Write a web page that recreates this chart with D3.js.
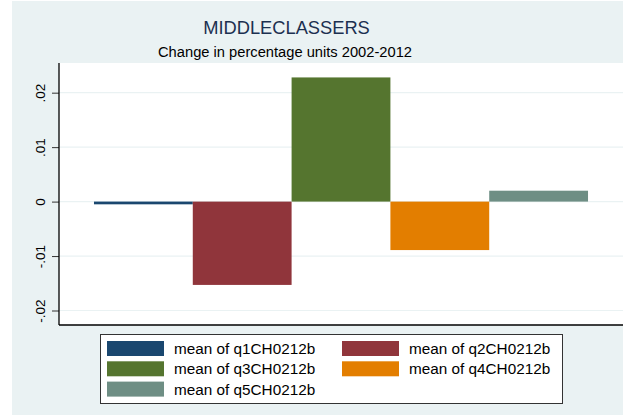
<!DOCTYPE html>
<html>
<head>
<meta charset="utf-8">
<script src="https://cdn.jsdelivr.net/npm/d3@7"></script>
<style>
  body { margin: 0; background: #fff; }
  text { font-family: "Liberation Sans", Arial, sans-serif; }
</style>
</head>
<body>
<div id="chart"></div>
<script>
"use strict";

const series = ["q1CH0212b", "q2CH0212b", "q3CH0212b", "q4CH0212b", "q5CH0212b"];
const values = [-0.0005, -0.0153, 0.0228, -0.0089, 0.0020];
const colors = ["#1a476f", "#90353b", "#55752f", "#e37e00", "#6e8e84"];
const yTicks = [-0.02, -0.01, 0, 0.01, 0.02];
const yTickLabels = ["-.02", "-.01", "0", ".01", ".02"];

const size = {
  width: 623,
  height: 415,
  left: 59,
  right: 623,
  top: 63,
  bottom: 325
};

window.onload = function () {
  const svg = d3.select("#chart")
    .append("svg")
    .attr("width", size.width)
    .attr("height", size.height);

  // outer background
  svg.append("rect")
    .attr("x", 12).attr("y", 1)
    .attr("width", size.width - 12).attr("height", size.height - 1)
    .attr("fill", "#eaf2f3");

  // plot region
  svg.append("rect")
    .attr("x", size.left).attr("y", size.top)
    .attr("width", size.right - size.left).attr("height", size.bottom - size.top)
    .attr("fill", "#ffffff");

  const x = d3.scaleBand()
    .domain(series)
    .range([size.left, size.right])
    .paddingInner(0)
    .paddingOuter(0.354);

  const y = d3.scaleLinear()
    .domain([-0.02266, 0.02545])
    .range([size.bottom, size.top]);

  // grid lines
  svg.append("g")
    .selectAll("line")
    .data(yTicks)
    .enter()
    .append("line")
    .attr("x1", size.left).attr("x2", size.right)
    .attr("y1", d => y(d)).attr("y2", d => y(d))
    .attr("stroke", "#eaf2f3")
    .attr("stroke-width", 1.2);

  // bars
  svg.append("g")
    .selectAll("rect")
    .data(series)
    .enter()
    .append("rect")
    .attr("x", d => x(d))
    .attr("width", x.bandwidth())
    .attr("y", (d, i) => y(Math.max(0, values[i])))
    .attr("height", (d, i) => Math.abs(y(values[i]) - y(0)))
    .attr("fill", (d, i) => colors[i]);

  // y axis
  const yAxis = d3.axisLeft(y)
    .tickValues(yTicks)
    .tickSize(7)
    .tickFormat((d, i) => yTickLabels[i]);

  const gy = svg.append("g")
    .attr("transform", "translate(" + size.left + ",0)")
    .call(yAxis);
  gy.select(".domain").remove();
  gy.selectAll(".tick line").attr("stroke", "#333").attr("stroke-width", 1);
  gy.selectAll(".tick text")
    .attr("x", 0).attr("y", 0)
    .attr("dy", 0)
    .attr("transform", "translate(-14,0) rotate(-90)")
    .attr("text-anchor", "middle")
    .attr("fill", "#000")
    .style("font-size", "13.5px")
    .style("font-family", "'Liberation Sans', Arial, sans-serif");

  // axis lines
  svg.append("line")
    .attr("x1", size.left).attr("x2", size.left)
    .attr("y1", size.top).attr("y2", size.bottom)
    .attr("stroke", "#000").attr("stroke-width", 1.3);
  svg.append("line")
    .attr("x1", size.left).attr("x2", size.right)
    .attr("y1", size.bottom).attr("y2", size.bottom)
    .attr("stroke", "#000").attr("stroke-width", 1.3);

  // titles
  svg.append("text")
    .attr("x", 286.5).attr("y", 34)
    .attr("text-anchor", "middle")
    .attr("fill", "#1c3050")
    .style("font-size", "18.3px")
    .text("MIDDLECLASSERS");

  svg.append("text")
    .attr("x", 285).attr("y", 57)
    .attr("text-anchor", "middle")
    .attr("fill", "#000")
    .style("font-size", "14.7px")
    .text("Change in percentage units 2002-2012");

  // legend
  const legend = svg.append("g");
  legend.append("rect")
    .attr("x", 100.5).attr("y", 334.5)
    .attr("width", 462).attr("height", 69)
    .attr("fill", "#fff")
    .attr("stroke", "#333")
    .attr("stroke-width", 1);

  const items = legend.selectAll(".item")
    .data(series)
    .enter()
    .append("g")
    .attr("class", "item")
    .attr("transform", (d, i) => "translate(" + (i % 2 === 0 ? 107 : 342) + "," + (341 + Math.floor(i / 2) * 20.3) + ")");

  items.append("rect")
    .attr("width", 57).attr("height", 15)
    .attr("fill", (d, i) => colors[i]);

  items.append("text")
    .attr("x", 67).attr("y", 13)
    .attr("fill", "#000")
    .style("font-size", "15.3px")
    .text(d => "mean of " + d);
};
</script>
</body>
</html>
